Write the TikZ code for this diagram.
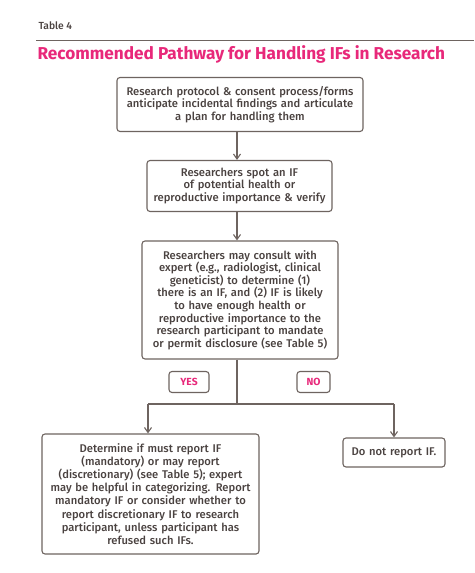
\documentclass[tikz,border=0pt]{standalone}
\usepackage{fontspec}
\setmainfont{Fira Sans}[UprightFont={* Medium}, BoldFont={* Bold}]
\usetikzlibrary{arrows.meta}
\definecolor{txt}{HTML}{4A4240}
\definecolor{edge}{HTML}{6E6460}
\definecolor{pink}{HTML}{E8287A}
\tikzset{
  box/.style={draw=edge, line width=1.1pt, rounded corners=3pt, align=center,
    text=txt, font=\fontsize{11.2}{12.6}\selectfont, inner sep=0pt},
  tag/.style={draw=edge, line width=1.1pt, rounded corners=3pt, align=center,
    text=pink, font=\fontsize{10.3}{12}\selectfont\bfseries, inner sep=0pt},
  conn/.style={draw=edge, line width=1.1pt},
  arr/.style={conn, -{Straight Barb[length=5pt,width=7pt]}}
}
\begin{document}
\begin{tikzpicture}[x=1pt,y=-1pt]
\useasboundingbox (0,0) rectangle (474,573);
\fill[white] (0,0) rectangle (474,573);
\node[anchor=west, text=txt, font=\fontsize{10.3}{12}\selectfont] (tab) at (35,26) {Table 4};
\coordinate (rl) at (36,40);
\coordinate (rr) at (474,40);
\draw[draw=edge, line width=0.9pt] (rl) -- (rr);
\node[anchor=west, text=pink, font=\fontsize{17.2}{19}\selectfont\bfseries] (title) at (34,54) {Recommended Pathway for Handling IFs in Research};

\node[box, minimum width=246pt, minimum height=54pt, text width=240pt] (b1) at (240,104.5)
  {Research protocol \& consent process/forms\\anticipate incidental findings and articulate\\a plan for handling them};
\node[box, minimum width=185pt, minimum height=51pt, text width=180pt] (b2) at (239.5,186)
  {Researchers spot an IF\\of potential health or\\reproductive importance \& verify};
\node[box, minimum width=196pt, minimum height=118pt, text width=190pt] (b3) at (240,300)
  {Researchers may consult with\\expert (e.g., radiologist, clinical\\geneticist) to determine (1)\\there is an IF, and (2) IF is likely\\to have enough health or\\reproductive importance to the\\research participant to mandate\\or permit disclosure (see Table 5)};
\node[tag, minimum width=40pt, minimum height=21pt] (yes) at (189,382) {YES};
\node[tag, minimum width=33pt, minimum height=21pt] (no) at (313.5,382) {NO};
\node[box, minimum width=217pt, minimum height=120pt, text width=210pt,
  font=\fontsize{11.2}{13.1}\selectfont] (lb) at (150.5,494)
  {Determine if must report IF\\(mandatory) or may report\\(discretionary) (see Table 5); expert\\may be helpful in categorizing. Report\\mandatory IF or consider whether to\\report discretionary IF to research\\participant, unless participant has\\refused such IFs.};
\node[box, minimum width=102pt, minimum height=29pt, text width=98pt] (rb) at (394,452.5) {Do not report IF.};

\coordinate (sp) at (237,0);
\coordinate (j) at (237,404);
\coordinate (lj) at (148,404);
\coordinate (rj) at (394,404);
\draw[arr] (b1.south -| sp) -- (b2.north -| sp);
\draw[arr] (b2.south -| sp) -- (b3.north -| sp);
\draw[conn] (b3.south -| sp) -- (j);
\draw[conn] (lj) -- (rj);
\draw[arr] (lj) -- (lj |- lb.north);
\draw[arr] (rj) -- (rj |- rb.north);
\end{tikzpicture}
\end{document}
